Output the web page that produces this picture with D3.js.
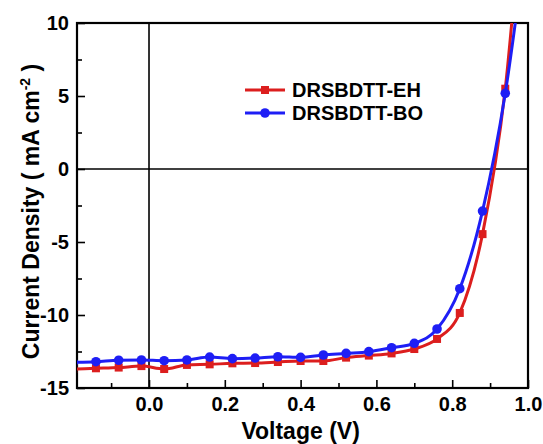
<!DOCTYPE html>
<html>
<head>
<meta charset="utf-8">
<script src="https://cdn.jsdelivr.net/npm/d3@7"></script>
<style>
  body { margin: 0; background: #fff; }
  text { font-family: "Liberation Sans", Arial, sans-serif; font-weight: bold; }
</style>
</head>
<body>
<div id="chart"></div>
<script>
// J-V curves of the two devices
const voltage = [-0.20, -0.14, -0.08, -0.02, 0.04, 0.10, 0.16, 0.22, 0.28, 0.34, 0.40,
                 0.46, 0.52, 0.58, 0.64, 0.70, 0.76, 0.82, 0.88, 0.94, 1.00];
const jEH = [-13.7, -13.65, -13.6, -13.5, -13.7, -13.42, -13.38, -13.31, -13.29, -13.22, -13.15,
             -13.15, -12.92, -12.78, -12.63, -12.33, -11.64, -9.86, -4.46, 5.5, 23.5];
const jBO = [-13.25, -13.2, -13.1, -13.08, -13.13, -13.08, -12.88, -12.99, -12.95, -12.86, -12.9,
             -12.74, -12.63, -12.51, -12.24, -11.94, -10.96, -8.2, -2.88, 5.18, 16.8];
const seriesNames = ["DRSBDTT-EH", "DRSBDTT-BO"];
const xTicks = [0.0, 0.2, 0.4, 0.6, 0.8, 1.0];
const yTicks = [-15, -10, -5, 0, 5, 10];

const width = 543, height = 444;
const margin = {top: 23, right: 15, bottom: 56, left: 77};
const w = width - margin.left - margin.right;
const h = height - margin.top - margin.bottom;

const svg = d3.select("#chart").append("svg")
    .attr("width", width)
    .attr("height", height);

const g = svg.append("g")
    .attr("transform", "translate(" + margin.left + "," + margin.top + ")");

const x = d3.scaleLinear().domain([-0.19, 1.0]).range([0, w]);
const y = d3.scaleLinear().domain([-15, 10]).range([h, 0]);

g.append("clipPath").attr("id", "clip")
  .append("rect").attr("width", w).attr("height", h);

// zero lines
g.append("line")
    .attr("x1", x(0)).attr("x2", x(0)).attr("y1", 0).attr("y2", h)
    .attr("stroke", "#000").attr("stroke-width", 1.6);
g.append("line")
    .attr("x1", 0).attr("x2", w).attr("y1", y(0)).attr("y2", y(0))
    .attr("stroke", "#000").attr("stroke-width", 1.6);

// axes, ticks pointing inward
function styleAxis(sel) {
    sel.select(".domain").remove();
    sel.selectAll("line").attr("stroke", "#000").attr("stroke-width", 1.6);
    sel.selectAll("text").attr("fill", "#000").style("font-size", "20px");
}

const hyphen = f => d => f(d).replace("\u2212", "-");

g.append("g")
    .attr("transform", "translate(0," + h + ")")
    .call(d3.axisBottom(x).tickValues(xTicks).tickFormat(hyphen(d3.format(".1f")))
        .tickSizeInner(-8).tickPadding(9))
    .call(styleAxis);

g.append("g")
    .attr("transform", "translate(0," + h + ")")
    .call(d3.axisBottom(x).tickValues(d3.range(-0.1, 1.0, 0.2)).tickFormat("")
        .tickSizeInner(-5))
    .call(styleAxis);

g.append("g")
    .call(d3.axisLeft(y).tickValues(yTicks).tickFormat(hyphen(d3.format("d")))
        .tickSizeInner(-8).tickPadding(8))
    .call(styleAxis);

g.append("g")
    .call(d3.axisLeft(y).tickValues(d3.range(-12.5, 10, 5)).tickFormat("")
        .tickSizeInner(-5))
    .call(styleAxis);

// frame
g.append("rect")
    .attr("width", w).attr("height", h)
    .attr("fill", "none").attr("stroke", "#000").attr("stroke-width", 2.2);

const red = "#dc1e1e", blue = "#1e1ef5";

const line = d3.line().curve(d3.curveMonotoneX)
    .x(d => x(d[0])).y(d => y(d[1]));

const dataEH = voltage.map((v, i) => [v, jEH[i]]);
const dataBO = voltage.map((v, i) => [v, jBO[i]]);

const plot = g.append("g").attr("clip-path", "url(#clip)");

plot.append("path").datum(dataEH)
    .attr("d", line).attr("fill", "none")
    .attr("stroke", red).attr("stroke-width", 3);

plot.selectAll(".sq").data(dataEH).enter().append("rect")
    .attr("class", "sq")
    .attr("x", d => x(d[0]) - 4).attr("y", d => y(d[1]) - 4)
    .attr("width", 8).attr("height", 8).attr("fill", red);

plot.append("path").datum(dataBO)
    .attr("d", line).attr("fill", "none")
    .attr("stroke", blue).attr("stroke-width", 3);

plot.selectAll(".dot").data(dataBO).enter().append("circle")
    .attr("class", "dot")
    .attr("cx", d => x(d[0])).attr("cy", d => y(d[1]))
    .attr("r", 4.8).attr("fill", blue);

// legend
const legend = svg.append("g").attr("transform", "translate(245,90)");
seriesNames.forEach((name, i) => {
    const row = legend.append("g").attr("transform", "translate(0," + i * 23 + ")");
    const c = i === 0 ? red : blue;
    row.append("line").attr("x1", 0).attr("x2", 40)
        .attr("stroke", c).attr("stroke-width", 3);
    if (i === 0) {
        row.append("rect").attr("x", 16).attr("y", -4).attr("width", 8).attr("height", 8).attr("fill", c);
    } else {
        row.append("circle").attr("cx", 20).attr("r", 4.8).attr("fill", c);
    }
    row.append("text").attr("x", 47).attr("y", 7)
        .style("font-size", "20px").text(name);
});

// axis titles
svg.append("text")
    .attr("x", margin.left + x(0.4)).attr("y", 439)
    .attr("text-anchor", "middle")
    .style("font-size", "23px")
    .text("Voltage (V)");

const yt = svg.append("text")
    .attr("transform", "translate(39," + (margin.top + h / 2 + 6) + ") rotate(-90)")
    .attr("text-anchor", "middle")
    .style("font-size", "23px");
yt.append("tspan").text("Current Density ( mA cm");
yt.append("tspan").attr("dy", -9).style("font-size", "14px").text("-2");
yt.append("tspan").attr("dy", 9).text(" )");
</script>
</body>
</html>
